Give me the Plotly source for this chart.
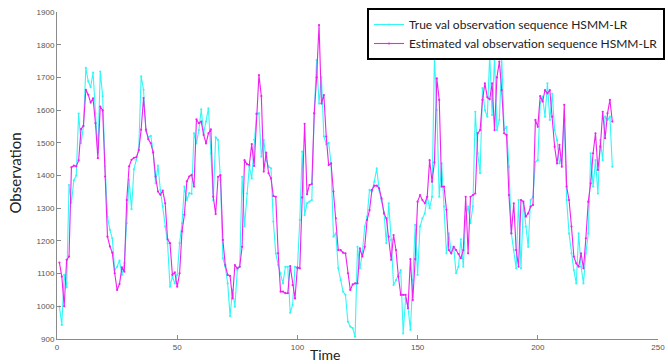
import plotly.graph_objects as go

time_idx = list(range(1, 232))

true_vals = [
    999, 943, 1096, 1058, 1371, 1317, 1385, 1400, 1589, 1499,
    1550, 1729, 1688, 1670, 1715, 1590, 1470, 1718, 1642, 1428,
    1274, 1234, 1208, 1111, 1121, 1140, 1096, 1132, 1254, 1387,
    1297, 1419, 1448, 1479, 1703, 1662, 1535, 1517, 1521, 1473,
    1376, 1430, 1356, 1305, 1244, 1193, 1060, 1091, 1070, 1096,
    1193, 1254, 1366, 1325, 1346, 1344, 1529, 1498, 1539, 1602,
    1529, 1565, 1605, 1468, 1325, 1517, 1509, 1386, 1147, 1121,
    1070, 970, 1050, 999, 1111, 1121, 1396, 1244, 1345, 1427,
    1391, 1509, 1590, 1590, 1458, 1509, 1447, 1427, 1422, 1259,
    1162, 1126, 1101, 1070, 1121, 1121, 980, 1004, 1121, 1116,
    1264, 1473, 1279, 1315, 1320, 1325, 1590, 1753, 1620, 1700,
    1520, 1495, 1500, 1437, 1213, 1223, 1116, 1080, 1045, 1035,
    953, 938, 933, 907, 1182, 1116, 1162, 1244, 1274, 1356,
    1351, 1381, 1422, 1356, 1325, 1289, 1193, 1315, 1203, 1065,
    1080, 1096, 1111, 917, 1024, 999, 928, 1080, 1249, 1096,
    1244, 1269, 1284, 1335, 1300, 1335, 1763, 1600, 1335, 1437,
    1305, 1162, 1223, 1162, 1182, 1101, 1121, 1205, 1121, 1274,
    1305, 1254, 1305, 1595, 1468, 1407, 1667, 1600, 1580, 1769,
    1585, 1763, 1539, 1570, 1760, 1539, 1549, 1427, 1223, 1172,
    1116, 1325, 1116, 1315, 1244, 1182, 1325, 1335, 1442, 1447,
    1621, 1641, 1580, 1682, 1570, 1650, 1539, 1508, 1437, 1460,
    1570, 1325, 1223, 1162, 1110, 1070, 1223, 1121, 1070, 1162,
    1223, 1468, 1366, 1447, 1345, 1508, 1447, 1580, 1570, 1580,
    1427,
]

est_vals = [
    1134, 1091, 1000, 1142, 1152, 1425, 1430, 1428, 1446, 1542,
    1552, 1662, 1647, 1623, 1636, 1560, 1453, 1611, 1599, 1397,
    1213, 1183, 1164, 1101, 1050, 1068, 1119, 1106, 1325, 1428,
    1448, 1454, 1456, 1477, 1540, 1637, 1540, 1511, 1499, 1470,
    1397, 1351, 1341, 1354, 1315, 1205, 1193, 1096, 1104, 1060,
    1101, 1229, 1280, 1382, 1397, 1402, 1366, 1572, 1560, 1565,
    1524, 1498, 1529, 1541, 1335, 1282, 1396, 1401, 1203, 1126,
    1096, 1093, 1024, 1126, 1116, 1121, 1182, 1447, 1435, 1432,
    1496, 1429, 1588, 1707, 1643, 1412, 1470, 1407, 1391, 1337,
    1335, 1162, 1045, 1045, 1040, 1040, 1123, 1065, 1024, 1119,
    1116, 1333, 1558, 1343, 1371, 1374, 1590, 1700, 1860, 1620,
    1646, 1519, 1432, 1437, 1351, 1269, 1172, 1172, 1164, 1162,
    1101, 1050, 1067, 1070, 1070, 1177, 1152, 1182, 1264, 1294,
    1356, 1369, 1369, 1361, 1330, 1284, 1269, 1213, 1142, 1218,
    1172, 1091, 1035, 1035, 1035, 994, 1144, 1019, 1144, 1320,
    1340, 1325, 1315, 1335, 1447, 1381, 1440, 1697, 1631, 1366,
    1366, 1295, 1172, 1162, 1182, 1172, 1160, 1147, 1172, 1335,
    1162, 1335, 1340, 1345, 1529, 1539, 1631, 1682, 1639, 1633,
    1682, 1539, 1700, 1748, 1661, 1529, 1524, 1340, 1223, 1315,
    1172, 1121, 1325, 1320, 1274, 1284, 1305, 1310, 1570, 1549,
    1643, 1626, 1661, 1651, 1661, 1580, 1488, 1437, 1494, 1427,
    1616, 1366, 1325, 1244, 1152, 1131, 1121, 1162, 1116, 1208,
    1320, 1376, 1468, 1529, 1417, 1488, 1595, 1514, 1590, 1631,
    1565,
]

x_ticks = [0, 50, 100, 150, 200, 250]
y_ticks = [900, 1000, 1100, 1200, 1300, 1400, 1500, 1600, 1700, 1800, 1900]

fig = go.Figure()
fig.add_trace(go.Scatter(
    x=time_idx, y=true_vals, mode="lines+markers",
    name="True val observation sequence HSMM-LR",
    line=dict(color="#33F7F7", width=1.1),
    marker=dict(color="#33F7F7", size=2.2),
))
fig.add_trace(go.Scatter(
    x=time_idx, y=est_vals, mode="lines+markers",
    name="Estimated val observation sequence HSMM-LR",
    line=dict(color="#F020F0", width=1.1),
    marker=dict(color="#F020F0", size=2.2),
))

axis_common = dict(
    showline=True, linecolor="#8a8a8a", linewidth=1,
    ticks="inside", ticklen=4, tickcolor="#8a8a8a",
    showgrid=False, zeroline=False, mirror=False, automargin=False,
    tickfont=dict(family="Liberation Sans, Arial, sans-serif", size=8, color="#555555"),
)

fig.update_layout(
    width=668, height=364,
    margin=dict(l=57, r=3, t=8, b=25, autoexpand=False),
    paper_bgcolor="white", plot_bgcolor="white",
    showlegend=True,
    legend=dict(
        x=1.0, y=1.0, xanchor="right", yanchor="top",
        bgcolor="white", bordercolor="black", borderwidth=2,
        font=dict(family="Lato, Open Sans, sans-serif", size=12, color="#222222"),
        itemwidth=30, tracegroupgap=0,
    ),
    xaxis=dict(range=[0, 250], tickvals=x_ticks, domain=[0, 0.98849], **axis_common),
    yaxis=dict(range=[900, 1900], tickvals=y_ticks, domain=[0, 0.98792], **axis_common),
    annotations=[
        dict(text="Time", x=0.4408, y=-0.048, xref="paper", yref="paper",
             xanchor="center", yanchor="middle", showarrow=False,
             font=dict(family="Lato, Open Sans, sans-serif", size=14, color="#222222")),
        dict(text="Observation", x=-0.0707, y=0.5, xref="paper", yref="paper",
             xanchor="center", yanchor="middle", showarrow=False, textangle=-90,
             font=dict(family="Lato, Open Sans, sans-serif", size=15, color="#222222")),
    ],
)

fig.write_html(
    "out.html",
    config={"displayModeBar": False},
    post_script="document.body.style.margin='0px';document.body.style.overflow='hidden';",
)
